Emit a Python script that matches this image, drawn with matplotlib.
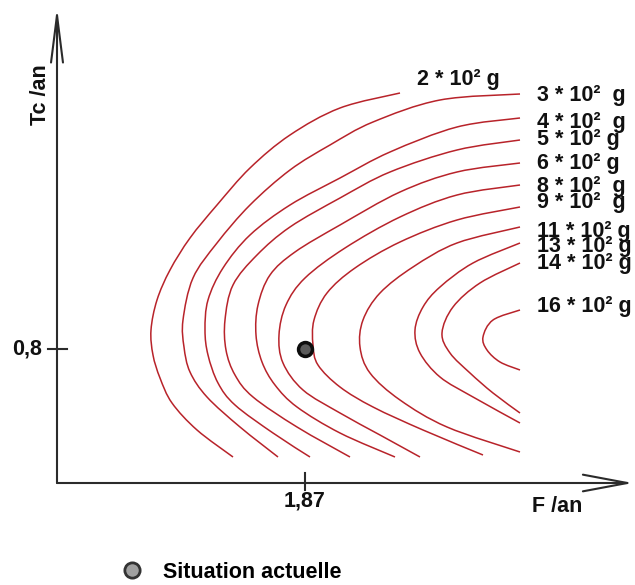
import matplotlib
matplotlib.use("Agg")
import matplotlib.pyplot as plt
from matplotlib.path import Path
from matplotlib.patches import PathPatch
from matplotlib.lines import Line2D

plt.rcParams["font.family"] = ["Liberation Sans", "DejaVu Sans"]
plt.rcParams["font.weight"] = "bold"

# current situation: fishing mortality F and age at first capture Tc (per year)
F_NOW = 1.87
TC_NOW = 0.8

# iso-yield curves, each traced from its upper end, round the nose, to its lower end
f_2 = [2.345, 2.045, 1.795, 1.595, 1.43, 1.295, 1.195, 1.13, 1.10, 1.11, 1.145,
       1.205, 1.33, 1.51]
tc_2 = [2.08, 2.005, 1.87, 1.705, 1.52, 1.355, 1.195, 1.045, 0.895, 0.77, 0.655,
        0.53, 0.395, 0.26]

f_3 = [2.945, 2.545, 2.21, 1.995, 1.795, 1.595, 1.43, 1.31, 1.26, 1.265, 1.295,
       1.38, 1.545, 1.735]
tc_3 = [2.075, 2.045, 1.935, 1.82, 1.695, 1.52, 1.33, 1.155, 0.945, 0.81, 0.685,
        0.56, 0.41, 0.26]

f_4 = [2.945, 2.63, 2.295, 2.045, 1.795, 1.595, 1.46, 1.385, 1.37, 1.385, 1.435,
       1.52, 1.71, 1.895]
tc_4 = [1.955, 1.91, 1.785, 1.655, 1.52, 1.37, 1.205, 1.045, 0.895, 0.77, 0.63,
        0.52, 0.38, 0.26]

f_5 = [2.945, 2.63, 2.295, 2.045, 1.795, 1.63, 1.51, 1.47, 1.475, 1.52, 1.61,
       1.83, 2.095]
tc_5 = [1.845, 1.795, 1.685, 1.555, 1.41, 1.27, 1.12, 0.945, 0.795, 0.67, 0.56,
        0.41, 0.26]

f_6 = [2.945, 2.63, 2.345, 2.045, 1.82, 1.695, 1.635, 1.625, 1.655, 1.72, 1.83,
       2.045, 2.32]
tc_6 = [1.73, 1.685, 1.585, 1.42, 1.285, 1.17, 1.02, 0.87, 0.735, 0.62, 0.51,
        0.38, 0.26]

f_8 = [2.945, 2.63, 2.345, 2.07, 1.87, 1.775, 1.74, 1.76, 1.86, 2.045, 2.245, 2.445]
tc_8 = [1.62, 1.57, 1.46, 1.305, 1.155, 1.02, 0.87, 0.73, 0.595, 0.48, 0.37, 0.26]

f_9 = [2.945, 2.63, 2.345, 2.12, 1.98, 1.915, 1.91, 1.935, 2.045, 2.21, 2.46, 2.76]
tc_9 = [1.51, 1.445, 1.335, 1.205, 1.08, 0.945, 0.82, 0.72, 0.61, 0.51, 0.395, 0.27]

f_11 = [2.945, 2.63, 2.41, 2.245, 2.16, 2.145, 2.195, 2.345, 2.58, 2.945]
tc_11 = [1.41, 1.33, 1.21, 1.08, 0.945, 0.81, 0.68, 0.545, 0.41, 0.285]

f_13 = [2.945, 2.71, 2.545, 2.46, 2.42, 2.445, 2.545, 2.71, 2.945]
tc_13 = [1.33, 1.23, 1.11, 1.01, 0.895, 0.78, 0.66, 0.56, 0.43]

f_14 = [2.945, 2.745, 2.61, 2.555, 2.595, 2.695, 2.81, 2.945]
tc_14 = [1.23, 1.13, 1.01, 0.88, 0.78, 0.68, 0.58, 0.48]

f_16 = [2.945, 2.81, 2.76, 2.78, 2.845, 2.945]
tc_16 = [0.995, 0.945, 0.86, 0.795, 0.735, 0.695]

yield_labels = ["2 * 10² g", "3 * 10²  g", "4 * 10²  g", "5 * 10² g", "6 * 10² g",
                "8 * 10²  g", "9 * 10²  g", "11 * 10² g", "13 * 10² g",
                "14 * 10² g", "16 * 10² g"]

curves = [(f_2, tc_2), (f_3, tc_3), (f_4, tc_4), (f_5, tc_5), (f_6, tc_6),
          (f_8, tc_8), (f_9, tc_9), (f_11, tc_11), (f_13, tc_13),
          (f_14, tc_14), (f_16, tc_16)]

# label offsets from the upper end of each curve, in points
label_dx = [12, 12, 12, 12, 12, 12, 12, 12, 12, 12, 12]
label_dy = [9.4, -1.4, -2.9, 0.7, -0.7, -1.4, 2.9, -2.9, -2.2, -0.7, 2.2]

CURVE_COLOR = "#b8232a"
AXIS_COLOR = "#2b2b2b"
TEXT_COLOR = "#111111"
FS = 15.5


def smooth_path(xs, ys):
    """Catmull-Rom spline through the traced points, as a cubic Bezier path."""
    pts = list(zip(xs, ys))
    n = len(pts)
    verts = [pts[0]]
    codes = [Path.MOVETO]
    for i in range(n - 1):
        p0 = pts[i - 1] if i > 0 else pts[i]
        p1 = pts[i]
        p2 = pts[i + 1]
        p3 = pts[i + 2] if i + 2 < n else p2
        c1 = (p1[0] + (p2[0] - p0[0]) / 6, p1[1] + (p2[1] - p0[1]) / 6)
        c2 = (p2[0] - (p3[0] - p1[0]) / 6, p2[1] - (p3[1] - p1[1]) / 6)
        verts += [c1, c2, p2]
        codes += [Path.CURVE4] * 3
    return Path(verts, codes)


fig = plt.figure(figsize=(6.35, 5.85), dpi=100)
ax = fig.add_axes([0, 0, 1, 1])
ax.set_xlim(0.345, 3.52)
ax.set_ylim(-0.38, 2.545)
ax.axis("off")

# axes drawn as arrows from the origin
f0, tc0 = 0.63, 0.13
ax.annotate("", xy=(3.51, tc0), xytext=(f0, tc0),
            arrowprops=dict(arrowstyle="->,head_length=3.2,head_width=0.6",
                            mutation_scale=10, lw=1.5, color=AXIS_COLOR,
                            shrinkA=0, shrinkB=0))
ax.annotate("", xy=(f0, 2.51), xytext=(f0, tc0),
            arrowprops=dict(arrowstyle="->,head_length=3.4,head_width=0.43",
                            mutation_scale=10, lw=1.5, color=AXIS_COLOR,
                            shrinkA=0, shrinkB=0))

# single ticks at the current situation
ax.plot([F_NOW, F_NOW], [tc0 - 0.035, tc0 + 0.05], color=AXIS_COLOR, lw=1.5)
ax.plot([f0 - 0.045, f0 + 0.05], [TC_NOW, TC_NOW], color=AXIS_COLOR, lw=1.5)
ax.text(F_NOW, 0.04, "1,87", ha="center", va="center", fontsize=FS, color=TEXT_COLOR)
ax.text(f0 - 0.075, TC_NOW, "0,8", ha="right", va="center", fontsize=FS, color=TEXT_COLOR)
ax.text(3.13, 0.01, "F /an", ha="center", va="center", fontsize=FS, color=TEXT_COLOR)
ax.text(0.545, 2.07, "Tc /an", ha="center", va="center", rotation=90,
        fontsize=FS, color=TEXT_COLOR)

for (xs, ys), label, dx, dy in zip(curves, yield_labels, label_dx, label_dy):
    ax.add_patch(PathPatch(smooth_path(xs, ys), facecolor="none",
                           edgecolor=CURVE_COLOR, lw=1.1))
    ax.annotate(label, xy=(xs[0], ys[0]), xytext=(dx, dy), textcoords="offset points",
                ha="left", va="center", fontsize=FS, color=TEXT_COLOR)

ax.plot([F_NOW], [TC_NOW], linestyle="none", marker="o", markersize=10,
        markerfacecolor="#5a5a5a", markeredgecolor="#0d0d0d", markeredgewidth=2.5,
        zorder=5)

handle = Line2D([], [], linestyle="none", marker="o", markersize=11,
                markerfacecolor="#a0a0a0", markeredgecolor="#333333",
                markeredgewidth=2)
ax.legend([handle], ["Situation actuelle"], loc="center left",
          bbox_to_anchor=(0.95, -0.315), bbox_transform=ax.transData,
          frameon=False, handlelength=1.0, handletextpad=0.95,
          borderpad=0, borderaxespad=0,
          prop=dict(weight="bold", size=FS))

fig.savefig("out.png", dpi=100)
